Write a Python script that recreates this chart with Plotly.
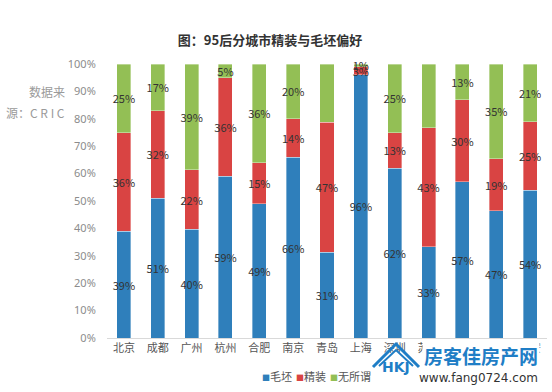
import plotly.graph_objects as go

cities = ["北京", "成都", "广州", "杭州", "合肥", "南京", "青岛", "上海",
          "深圳", "苏州", "天津", "武汉", "西安"]
maopi = [39, 51, 40, 59, 49, 66, 31, 96, 62, 33, 57, 47, 54]
jingzhuang = [36, 32, 22, 36, 15, 14, 47, 3, 13, 43, 30, 19, 25]
wusuowei = [25, 17, 39, 5, 36, 20, 21, 1, 25, 23, 13, 35, 21]
series_names = ["毛坯", "精装", "无所谓"]
colors = ["#2f7fbb", "#d94443", "#93bf55"]

W, H = 552, 392
L, R, T, B = 107, 547, 64, 338

def px(x):
    return (x - L) / (R - L)

def py(y):
    return (B - y) / (B - T)

FONT = "Noto Sans CJK SC"

fig = go.Figure()
for name, vals, col in zip(series_names, [maopi, jingzhuang, wusuowei], colors):
    fig.add_trace(go.Bar(
        x=cities, y=vals, name=name,
        marker=dict(color=col, line=dict(width=0.6, color="rgba(255,255,255,0.6)")),
        text=[f"{v}%" for v in vals],
        textposition="inside", insidetextanchor="middle", textangle=0,
        textfont=dict(family=FONT, size=11, color="#333333"),
        constraintext="none", cliponaxis=False,
        hoverinfo="skip", showlegend=False,
    ))

fig.update_layout(
    barmode="stack", barnorm="percent", bargap=0.585,
    width=W, height=H,
    margin=dict(l=L, r=W - R, t=T, b=H - B),
    paper_bgcolor="white", plot_bgcolor="white",
    font=dict(family=FONT, color="#555555"),
    uniformtext=dict(minsize=11, mode="show"),
    title=dict(text="<b>图：95后分城市精装与毛坯偏好</b>", x=270 / W, xanchor="center",
               y=1 - 40 / H, yanchor="middle",
               font=dict(family=FONT, size=13, color="#333333")),
    showlegend=False,
)
fig.update_xaxes(showline=True, linecolor="#d9d9d9", linewidth=1, ticks="",
                 tickfont=dict(family=FONT, size=11, color="#555555"), showgrid=False)
fig.update_yaxes(range=[0, 100], dtick=10, ticksuffix="%", showgrid=False,
                 zeroline=False, showline=False, ticks="outside", ticklen=8,
                 tickcolor="rgba(0,0,0,0)",
                 tickfont=dict(family="Noto Sans", size=11, color="#8c8c8c"))

# legend drawn as text
legend_x = [262, 296, 330]
for name, col, lx in zip(series_names, colors, legend_x):
    fig.add_annotation(text=f"<span style='color:{col};font-size:8px'>■</span>{name}",
                       xref="paper", yref="paper", x=px(lx - 2), y=py(376),
                       xanchor="left", yanchor="middle", showarrow=False,
                       font=dict(family=FONT, size=11, color="#555555"))

fig.add_annotation(text="数据来", xref="paper", yref="paper",
                   x=px(67), y=py(91), xanchor="right", yanchor="middle",
                   showarrow=False, font=dict(family=FONT, size=12, color="#9a9a9a"))
fig.add_annotation(text="源：C R I C", xref="paper", yref="paper",
                   x=px(67), y=py(113), xanchor="right", yanchor="middle",
                   showarrow=False, font=dict(family=FONT, size=12, color="#9a9a9a"))

# watermark
fig.add_shape(type="path", xref="paper", yref="paper",
              path=f"M {px(373)} {py(367)} L {px(396)} {py(344)} L {px(419)} {py(367)}",
              line=dict(color="#1f7ec6", width=3), layer="above")
fig.add_shape(type="path", xref="paper", yref="paper",
              path=f"M {px(379)} {py(366)} L {px(396)} {py(350)} L {px(413)} {py(366)}",
              line=dict(color="#1f7ec6", width=2), layer="above")
fig.add_annotation(text="<b>HKJ</b>", xref="paper", yref="paper", x=px(396), y=py(377),
                   showarrow=False, font=dict(family="DejaVu Sans", size=14, color="#1f7ec6"))
fig.add_annotation(text="<b>房客佳房产网</b>", xref="paper", yref="paper",
                   x=px(481), y=py(355), xanchor="center", yanchor="middle",
                   showarrow=False, bgcolor="white",
                   font=dict(family=FONT, size=19, color="#1f7ec6"))
fig.add_annotation(text="www.fang0724.com", xref="paper", yref="paper",
                   x=px(478), y=py(378), xanchor="center", yanchor="middle",
                   showarrow=False, bgcolor="white",
                   font=dict(family="DejaVu Sans", size=12, color="#333333"))

fig.write_html("out.html")
